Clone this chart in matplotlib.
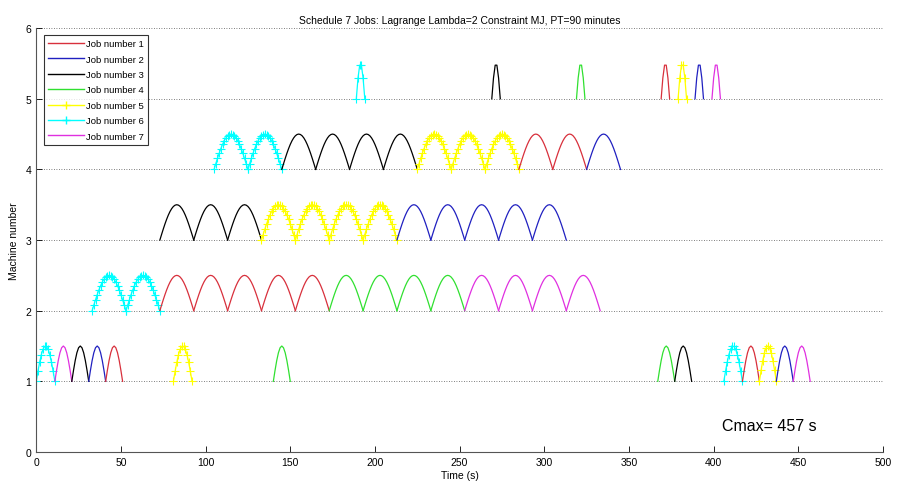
import numpy as np
import matplotlib
matplotlib.use("Agg")
import matplotlib.pyplot as plt

plt.rcParams['font.family'] = ['Liberation Sans', 'DejaVu Sans']

# job colours / markers (MATLAB style)
job_names = ["Job number 1", "Job number 2", "Job number 3", "Job number 4",
             "Job number 5", "Job number 6", "Job number 7"]
job_colors = ["#d8303c", "#2020c0", "#000000", "#30e030", "#ffff00", "#00ffff", "#e030e0"]
job_markers = ["", "", "", "", "+", "+", ""]

# each arc: job, start (s), duration (s)
m1_jobs = [6, 7, 3, 2, 1, 5, 4, 4, 3, 6, 1, 5, 2, 7]
m1_starts = [0, 11, 21, 31, 41, 81, 140, 367, 377, 406, 417, 427, 437, 447]
m1_durs = [11, 10, 10, 10, 10, 11, 10, 10, 10, 11, 10, 10, 10, 10]

m2_jobs = [6, 6, 1, 1, 1, 1, 1, 4, 4, 4, 4, 7, 7, 7, 7]
m2_starts = [33, 53, 73, 93, 113, 133, 153, 173, 193, 213, 233, 253, 273, 293, 313]
m2_durs = [20] * 15

m3_jobs = [3, 3, 3, 5, 5, 5, 5, 2, 2, 2, 2, 2]
m3_starts = [73, 93, 113, 133, 153, 173, 193, 213, 233, 253, 273, 293]
m3_durs = [20] * 12

m4_jobs = [6, 6, 3, 3, 3, 3, 5, 5, 5, 1, 1, 2]
m4_starts = [105, 125, 145, 165, 185, 205, 225, 245, 265, 285, 305, 325]
m4_durs = [20] * 12

m5_jobs = [6, 3, 4, 1, 5, 2, 7]
m5_starts = [189, 269, 319, 369, 379, 389, 399]
m5_durs = [5] * 7

machines = [
    (1, m1_jobs, m1_starts, m1_durs),
    (2, m2_jobs, m2_starts, m2_durs),
    (3, m3_jobs, m3_starts, m3_durs),
    (4, m4_jobs, m4_starts, m4_durs),
    (5, m5_jobs, m5_starts, m5_durs),
]
cmax = 457

fig = plt.figure(figsize=(8.97, 4.85), dpi=100)
ax = fig.add_axes([0.0404, 0.066, 0.944, 0.874])

for m, jobs, starts, durs in machines:
    for j, s, d in zip(jobs, starts, durs):
        t = np.arange(s, s + d + 1)
        y = m + 0.5 * np.sin(np.pi * (t - s) / d)
        ax.plot(t, y, color=job_colors[j - 1], marker=job_markers[j - 1] or None,
                markersize=6, markeredgewidth=0.8, linewidth=0.9)

# legend handles
for k in range(7):
    ax.plot([], [], color=job_colors[k], marker=job_markers[k] or None,
            markersize=6, linewidth=1, label=job_names[k])
leg = ax.legend(loc="upper left", fontsize=6.8, frameon=True, fancybox=False,
                borderpad=0.45, labelspacing=0.68, handlelength=3.8, handletextpad=0.2,
                bbox_to_anchor=(0.003, 0.995))
leg.get_frame().set_edgecolor("black")
leg.get_frame().set_linewidth(0.8)

ax.set_xlim(0, 500)
ax.set_ylim(0, 6)
ax.set_xticks(np.arange(0, 501, 50))
ax.set_yticks(np.arange(0, 7, 1))
ax.tick_params(direction="in", labelsize=7.5, length=4, width=0.6)
for y in range(1, 7):
    ax.axhline(y, color="#555555", linestyle=(0, (1, 2)), linewidth=0.6, zorder=0)
for sp in ["top", "right"]:
    ax.spines[sp].set_visible(False)
for sp in ["left", "bottom"]:
    ax.spines[sp].set_color("#555555")
    ax.spines[sp].set_linewidth(0.8)

ax.set_title("Schedule 7 Jobs: Lagrange Lambda=2 Constraint MJ, PT=90 minutes", fontsize=7.5, pad=4)
ax.set_xlabel("Time (s)", fontsize=7.5, labelpad=2)
ax.set_ylabel("Machine number", fontsize=7.5, labelpad=5)
ax.text(405, 0.37, "Cmax= %d s" % cmax, fontsize=11.5, va="center")

fig.savefig("out.png", dpi=100)
